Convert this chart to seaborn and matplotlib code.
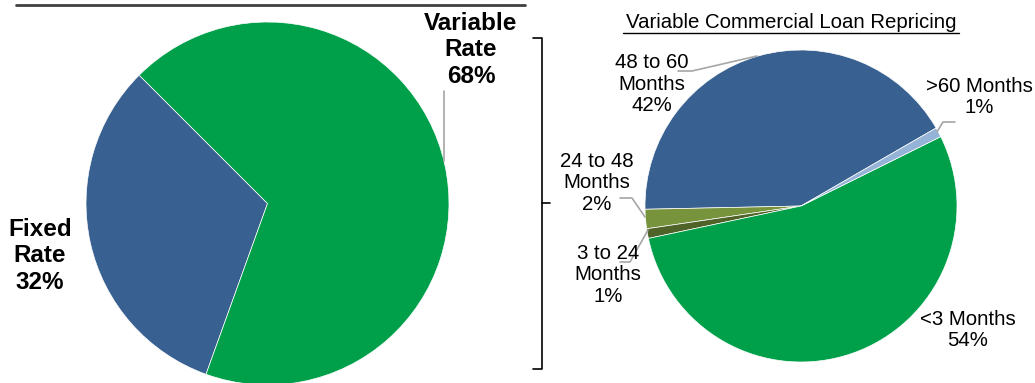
import matplotlib
matplotlib.use("Agg")
import matplotlib.pyplot as plt
import seaborn as sns

# ---- data ----
rate_labels = ["Fixed\nRate\n32%", "Variable\nRate\n68%"]
rate_values = [32, 68]
rate_colors = ["#386090", "#00A04A"]

reprice_labels = ["48 to 60\nMonths\n42%", "24 to 48\nMonths\n2%",
                  "3 to 24\nMonths\n1%", "<3 Months\n54%", ">60 Months\n1%"]
reprice_values = [42, 2, 1, 54, 1]
reprice_colors = ["#386090", "#77933C", "#4F6228", "#00A04A", "#95B3D7"]
reprice_title = "Variable Commercial Loan Repricing"

sns.set_theme(style="white")
plt.rcParams["font.family"] = ["Liberation Sans", "DejaVu Sans"]

W, H = 1035, 383
fig = plt.figure(figsize=(W / 100, H / 100), dpi=100)


def px_axes(cx, cy, r):
    return fig.add_axes([(cx - r) / W, (H - cy - r) / H, 2 * r / W, 2 * r / H])


wp = dict(edgecolor="white", linewidth=0.5)

# left pie
ax1 = px_axes(267.5, 203.5, 181.5)
ax1.pie(rate_values, colors=rate_colors, startangle=135, counterclock=True,
        radius=1, wedgeprops=wp)
ax1.set_xlim(-1, 1); ax1.set_ylim(-1, 1); ax1.set_aspect("auto"); ax1.axis("off")

# right pie
ax2 = px_axes(801, 206, 156)
ax2.pie(reprice_values, colors=reprice_colors, startangle=30, counterclock=True,
        radius=1, wedgeprops=wp)
ax2.set_xlim(-1, 1); ax2.set_ylim(-1, 1); ax2.set_aspect("auto"); ax2.axis("off")

# overlay in pixel coords for labels / decorations
ov = fig.add_axes([0, 0, 1, 1], facecolor="none")
ov.set_xlim(0, W); ov.set_ylim(H, 0); ov.axis("off")

bold = dict(fontsize=17.5, fontweight="bold", ha="center", va="center",
            linespacing=1.22, color="black")
ov.text(40, 256, rate_labels[0], **bold)
ov.text(471, 50, rate_labels[1], **bold)

gray = "#A6A6A6"
ov.plot([444, 444], [161, 91], color=gray, lw=1.2)
ov.plot([16, 525], [5, 5], color="#404040", lw=2)

# bracket
ov.plot([533, 542, 542, 533], [38, 38, 369, 369], color="black", lw=1.2)
ov.plot([542, 550], [203, 203], color="black", lw=1.2)

reg = dict(fontsize=14.7, ha="center", va="center", linespacing=1.18, color="black")
ov.text(791, 22, reprice_title, **reg)
ov.plot([623, 959], [33, 33], color="black", lw=1)

ov.text(652, 84, reprice_labels[0], **reg)
ov.text(597, 183, reprice_labels[1], **reg)
ov.text(608, 275, reprice_labels[2], **reg)
ov.text(968, 330, reprice_labels[3], **reg)
ov.text(979, 97, reprice_labels[4], **reg)

ov.plot([678, 692, 757], [71, 71, 56], color=gray, lw=1.2)
ov.plot([955, 943, 937], [122, 122, 132], color=gray, lw=1.2)
ov.plot([620, 632, 645], [198, 198, 217], color=gray, lw=1.2)
ov.plot([620, 630, 648], [262, 262, 230], color=gray, lw=1.2)

fig.savefig("out.png", dpi=100)
